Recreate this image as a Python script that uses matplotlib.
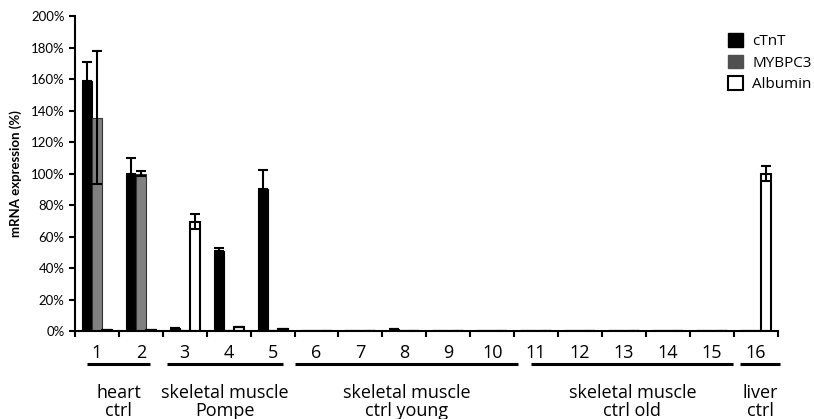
import matplotlib
matplotlib.use("Agg")
import matplotlib.pyplot as plt
import matplotlib.transforms as mtransforms
from matplotlib.patches import Patch
import numpy as np

categories = [str(i) for i in range(1, 17)]
series_names = ["cTnT", "MYBPC3", "Albumin"]
ctnt = [158.5, 100, 2, 50.5, 90, 0.3, 0.3, 1.0, 0.3, 0.3, 0.3, 0.3, 0.3, 0.3, 0.3, 0]
ctnt_err = [12, 10, 0, 2, 12, 0, 0, 0, 0, 0, 0, 0, 0, 0, 0, 0]
mybpc3 = [135.5, 100, 0, 0, 0, 0, 0, 0, 0, 0, 0.3, 0.3, 0.3, 0.3, 0, 0]
mybpc3_err = [42, 1.5, 0, 0, 0, 0, 0, 0, 0, 0, 0, 0, 0, 0, 0, 0]
albumin = [0.5, 0.5, 69.5, 2.5, 1.0, 0, 0, 0, 0, 0, 0, 0, 0, 0, 0, 100]
albumin_err = [0, 0, 4.5, 0, 0, 0, 0, 0, 0, 0, 0, 0, 0, 0, 0, 4.5]
yticks = [0, 20, 40, 60, 80, 100, 120, 140, 160, 180, 200]
groups = [("heart", "ctrl", 1, 2), ("skeletal muscle", "Pompe", 3, 5),
          ("skeletal muscle", "ctrl young", 6, 10), ("skeletal muscle", "ctrl old", 11, 15),
          ("liver", "ctrl", 16, 16)]

fig = plt.figure(figsize=(8.14, 4.19), dpi=100)
ax = fig.add_axes([0.0921, 0.21, 0.8633, 0.7518])

x = np.arange(1, len(categories) + 1)
w = 0.228
ekw = dict(elinewidth=1.5, capthick=1.5, ecolor="black")
ax.bar(x - w, ctnt, w, color="black", edgecolor="black", linewidth=0.8,
       yerr=[np.zeros(len(ctnt)), ctnt_err], capsize=3.5, error_kw=ekw)
ax.bar(x, mybpc3, w, color="#808080", edgecolor="#333333", linewidth=0.8,
       yerr=mybpc3_err, capsize=3.5, error_kw=ekw)
ax.bar(x + w, albumin, w, color="white", edgecolor="black", linewidth=1.5,
       yerr=albumin_err, capsize=3.5, error_kw=ekw)

ax.set_xlim(0.5, 16.5)
ax.set_ylim(0, 200)
ax.set_yticks(yticks)
ax.set_yticklabels([f"{v}%" for v in yticks], fontfamily="Lato", fontsize=9.5)
ax.set_xticks(np.arange(0.5, 16.6, 1))
ax.set_xticklabels([])
ax.set_xticks(x, minor=True)
ax.set_xticklabels(categories, minor=True, fontfamily="Open Sans", fontsize=13)
ax.tick_params(axis="x", which="minor", length=0, pad=9)
ax.tick_params(axis="x", which="major", length=4.5, width=1.5, direction="out")
ax.tick_params(axis="y", length=4.5, width=1.5, direction="out", pad=3)
for s in ["top", "right"]:
    ax.spines[s].set_visible(False)
for s in ["left", "bottom"]:
    ax.spines[s].set_linewidth(1.5)

ax.set_ylabel("mRNA expression (%)", fontfamily="Lato", fontweight="bold", fontsize=9.5, labelpad=6)

trans = mtransforms.blended_transform_factory(ax.transData, ax.transAxes)
line_ext = {1: (0.77, 2.21), 3: (2.6, 5.24), 6: (5.51, 10.59), 11: (10.89, 15.49), 16: (15.65, 16.56)}
for l1, l2, a, b in groups:
    x0, x1 = line_ext[a]
    ax.plot([x0, x1], [-0.105, -0.105], color="black", lw=2.2, transform=trans, clip_on=False,
            solid_capstyle="butt")
    xc = (x0 + x1) / 2
    ax.text(xc, -0.2137, l1, transform=trans, ha="center", va="baseline",
            fontfamily="Open Sans", fontsize=13)
    ax.text(xc, -0.2698, l2, transform=trans, ha="center", va="baseline",
            fontfamily="Open Sans", fontsize=13)

handles = [Patch(facecolor="black", edgecolor="black"),
           Patch(facecolor="#505050", edgecolor="#505050"),
           Patch(facecolor="white", edgecolor="black", linewidth=1.5)]
leg = ax.legend(handles, series_names, loc="upper left", bbox_to_anchor=(0.92, 0.965),
                frameon=False, prop={"family": "Open Sans", "size": 11},
                handlelength=1.0, handleheight=1.0, handletextpad=0.6, labelspacing=0.35,
                borderaxespad=0)

fig.savefig("out.png", dpi=100)
